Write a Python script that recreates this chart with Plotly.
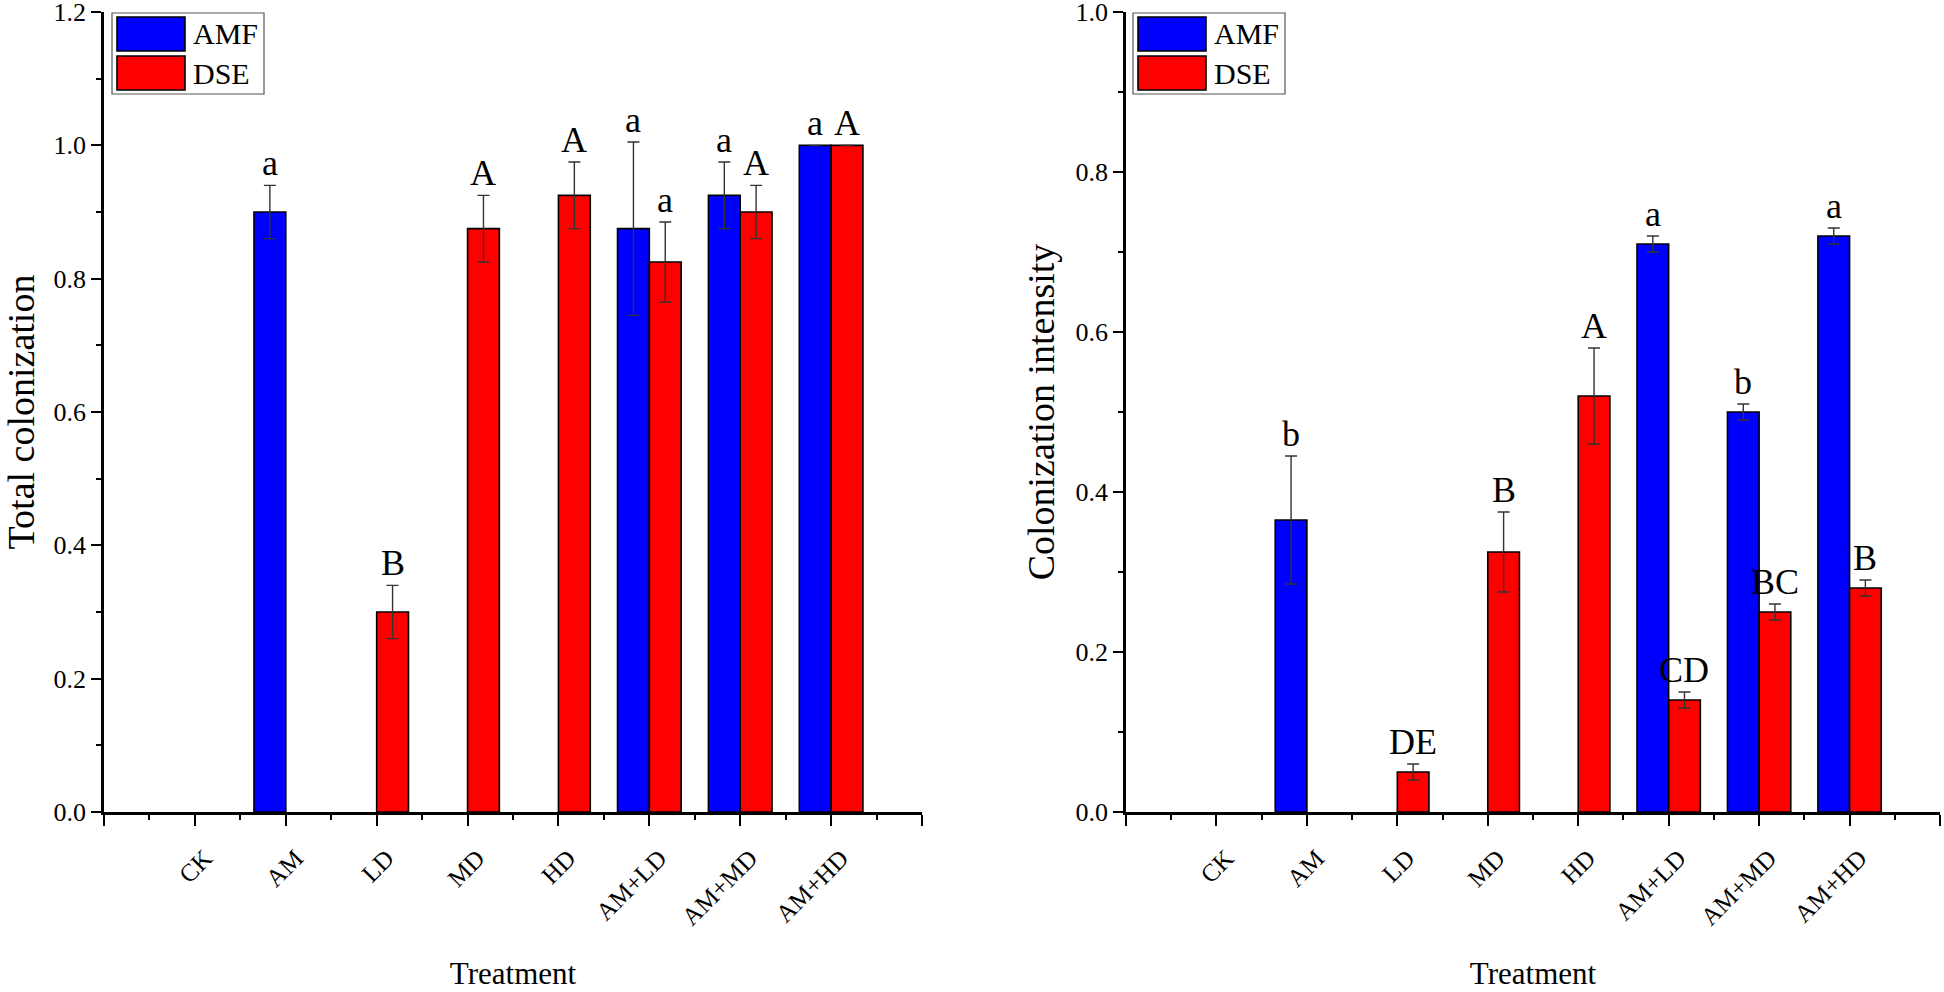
import plotly.graph_objects as go

# ---------------- data ----------------
treatments = ["CK", "AM", "LD", "MD", "HD", "AM+LD", "AM+MD", "AM+HD"]

# Left panel: Total colonization
total_amf = [0, 0.90, 0, 0, 0, 0.875, 0.925, 1.0]
total_amf_err = [0, 0.04, 0, 0, 0, 0.13, 0.05, 0]
total_dse = [0, 0, 0.30, 0.875, 0.925, 0.825, 0.90, 1.0]
total_dse_err = [0, 0, 0.04, 0.05, 0.05, 0.06, 0.04, 0]
total_amf_letters = ["", "a", "", "", "", "a", "a", "a"]
total_dse_letters = ["", "", "B", "A", "A", "a", "A", "A"]

# Right panel: Colonization intensity
int_amf = [0, 0.365, 0, 0, 0, 0.71, 0.50, 0.72]
int_amf_err = [0, 0.08, 0, 0, 0, 0.01, 0.01, 0.01]
int_dse = [0, 0, 0.05, 0.325, 0.52, 0.14, 0.25, 0.28]
int_dse_err = [0, 0, 0.01, 0.05, 0.06, 0.01, 0.01, 0.01]
int_amf_letters = ["", "b", "", "", "", "a", "b", "a"]
int_dse_letters = ["", "", "DE", "B", "A", "CD", "BC", "B"]

series_names = ["AMF", "DSE"]
series_colors = ["#0000FF", "#FF0000"]

# ---------------- layout constants ----------------
W, H = 1944, 992
ML, MR, MT, MB = 104, 4, 12, 180
PW, PH = W - ML - MR, H - MT - MB
FONT = "Liberation Serif, Times New Roman, serif"
BAR_W = 0.35


def px(xp):
    return (xp - ML) / PW


def py(yp):
    return (H - MB - yp) / PH


idx = list(range(len(treatments)))

fig = go.Figure()

panels = [
    ("x", "y", [total_amf, total_dse], [total_amf_err, total_dse_err],
     [total_amf_letters, total_dse_letters]),
    ("x2", "y2", [int_amf, int_dse], [int_amf_err, int_dse_err],
     [int_amf_letters, int_dse_letters]),
]

annotations = []
for p, (xa, ya, vals, errs, letters) in enumerate(panels):
    for s in range(2):
        y_arr = [v if v > 0 else None for v in vals[s]]
        err_arr = [e if e > 0 else None for e in errs[s]]
        fig.add_trace(go.Bar(
            x=idx, y=y_arr, name=series_names[s], xaxis=xa, yaxis=ya,
            marker=dict(color=series_colors[s], line=dict(color="black", width=1.6)),
            error_y=dict(type="data", array=err_arr, visible=True,
                         color="#333333", thickness=1.4, width=6),
            showlegend=False,
        ))
        off = -BAR_W / 2 if s == 0 else BAR_W / 2
        for i in idx:
            if letters[s][i]:
                annotations.append(dict(
                    x=i + off, y=vals[s][i] + errs[s][i], xref=xa, yref=ya,
                    text=letters[s][i], showarrow=False, yanchor="bottom",
                    xanchor="center", yshift=0,
                    font=dict(family=FONT, size=36, color="black")))

# custom legends (large swatches as in the reference)
shapes = []
for bx in (112, 1133):
    shapes.append(dict(type="rect", xref="paper", yref="paper",
                       x0=px(bx), x1=px(bx + 152), y0=py(13), y1=py(94),
                       line=dict(color="#555555", width=1.2), fillcolor="white"))
    for s, (y0, y1) in enumerate([(17, 51), (56, 90)]):
        shapes.append(dict(type="rect", xref="paper", yref="paper",
                           x0=px(bx + 5), x1=px(bx + 73), y0=py(y0), y1=py(y1),
                           line=dict(color="black", width=1.6),
                           fillcolor=series_colors[s]))
        annotations.append(dict(
            x=px(bx + 79), y=py((y0 + y1) / 2), xref="paper", yref="paper",
            text=series_names[s], showarrow=False, xanchor="left", yanchor="middle",
            font=dict(family=FONT, size=30, color="black")))

xaxis_common = dict(
    range=[-1, 8], tickmode="array", tickvals=list(range(-1, 9)),
    ticktext=[""] + treatments + [""], tickangle=-45,
    ticks="outside", ticklen=11, tickwidth=2, tickcolor="black",
    showline=True, linecolor="black", linewidth=2.5,
    showgrid=False, zeroline=False, automargin=False,
    tickfont=dict(family=FONT, size=25, color="black"),
    ticklabelstandoff=8, ticklabelshift=10, ticklabeloverflow="allow",
    minor=dict(tickmode="array", tickvals=[i + 0.5 for i in range(-1, 8)],
               ticks="outside", ticklen=5, tickwidth=2, tickcolor="black"),
    title=dict(text="Treatment", font=dict(family=FONT, size=31, color="black"),
               standoff=33),
)
yaxis_common = dict(
    ticks="outside", ticklen=10, tickwidth=2, tickcolor="black",
    showline=True, linecolor="black", linewidth=2.5,
    showgrid=False, zeroline=False, tickformat=".1f", dtick=0.2, tick0=0,
    ticklabeloverflow="allow", automargin=False,
    tickfont=dict(family=FONT, size=26, color="black"),
    minor=dict(dtick=0.1, ticks="outside", ticklen=5, tickwidth=2, tickcolor="black"),
)

fig.update_layout(
    width=W, height=H,
    margin=dict(l=ML, r=MR, t=MT, b=MB, autoexpand=False),
    paper_bgcolor="white", plot_bgcolor="white",
    barmode="group", bargap=1 - 2 * BAR_W, bargroupgap=0,
    showlegend=False,
    xaxis=dict(domain=[0, px(922)], anchor="y", **xaxis_common),
    xaxis2=dict(domain=[px(1126), 1], anchor="y2", **xaxis_common),
    yaxis=dict(range=[0, 1.2000001], anchor="x",
               title=dict(text="Total colonization",
                          font=dict(family=FONT, size=38, color="black"), standoff=56),
               **yaxis_common),
    yaxis2=dict(range=[0, 1.0000001], anchor="x2",
                title=dict(text="Colonization intensity",
                           font=dict(family=FONT, size=38, color="black"), standoff=10),
                **yaxis_common),
    shapes=shapes,
    annotations=annotations,
)

# remove the default page margin so the figure starts at the top-left corner
fig.write_html("out.html",
               config={"displayModeBar": False},
               post_script="document.body.style.margin='0px';"
                           "document.body.style.overflow='hidden';")
